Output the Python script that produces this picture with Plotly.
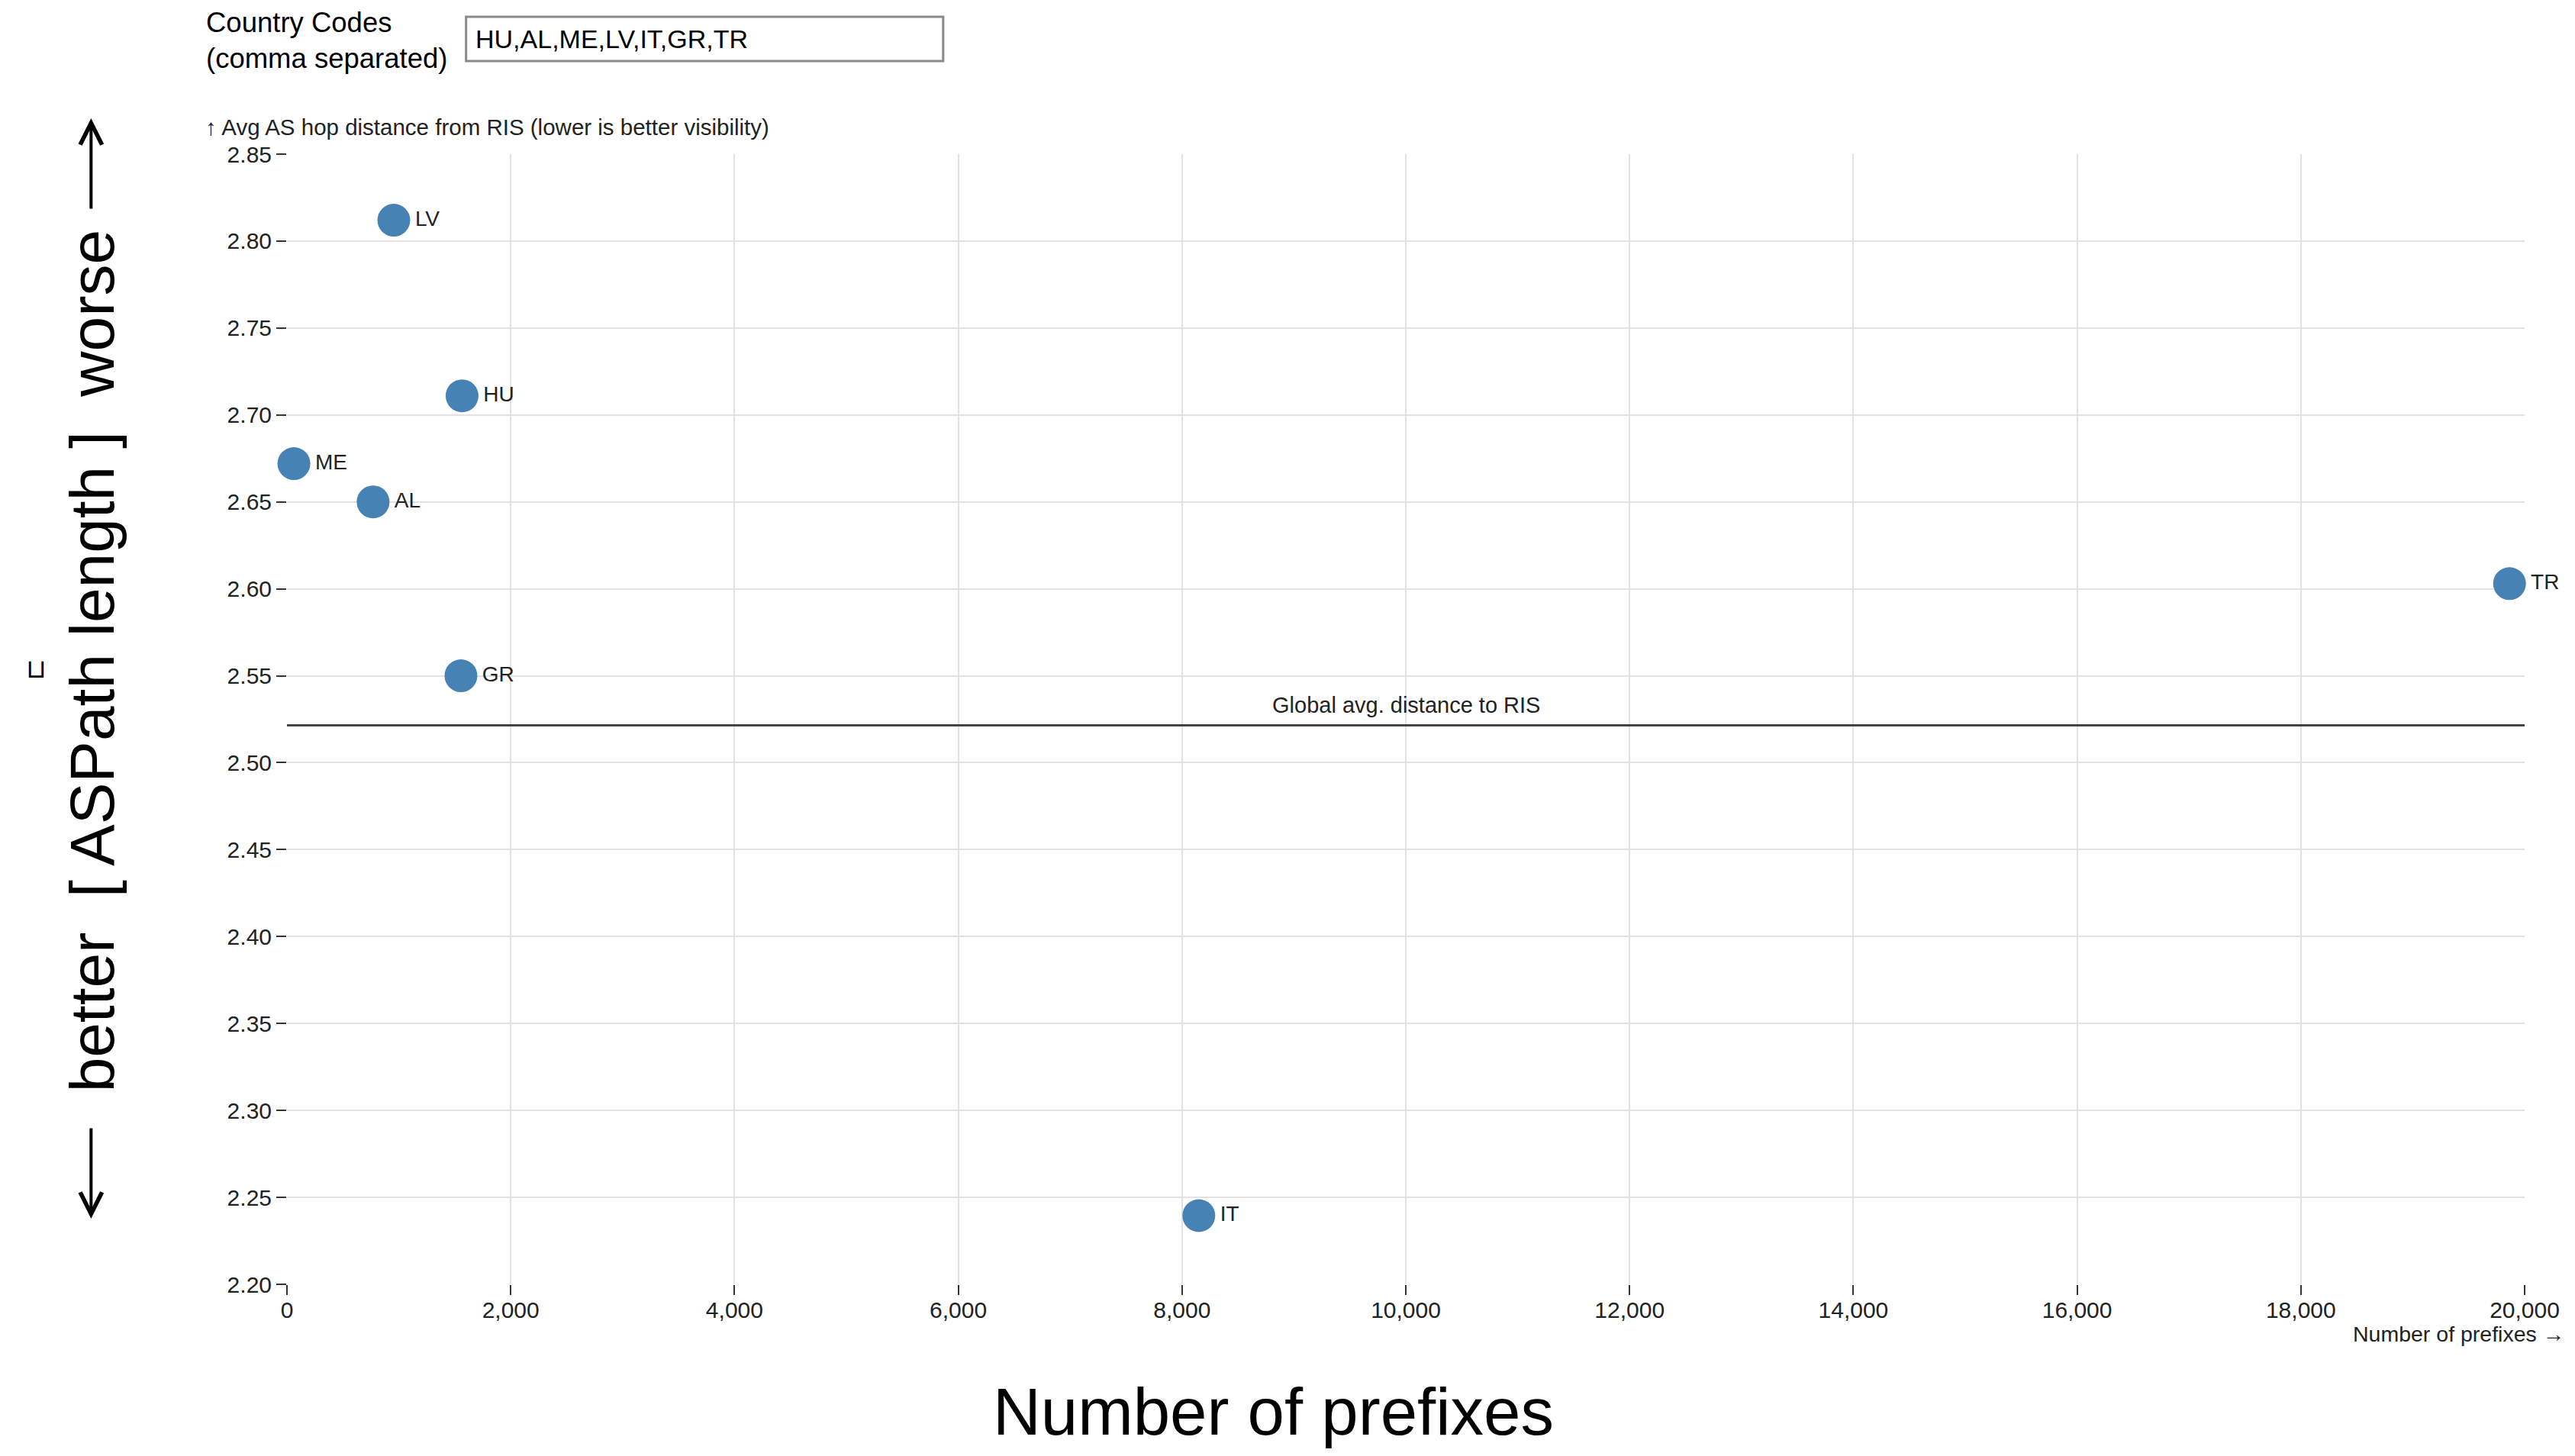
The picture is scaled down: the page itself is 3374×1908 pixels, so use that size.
import plotly.graph_objects as go

# ---- data ----
countries = ["HU", "AL", "ME", "LV", "IT", "GR", "TR"]
prefixes = [1565, 770, 62, 955, 8150, 1555, 19865]
avg_hops = [2.711, 2.650, 2.672, 2.812, 2.2395, 2.550, 2.603]
global_avg = 2.5215
x_ticks = [0, 2000, 4000, 6000, 8000, 10000, 12000, 14000, 16000, 18000, 20000]
y_ticks = [2.20, 2.25, 2.30, 2.35, 2.40, 2.45, 2.50, 2.55, 2.60, 2.65, 2.70, 2.75, 2.80, 2.85]
input_text = "HU,AL,ME,LV,IT,GR,TR"

# page body has an 8px margin; compensate so the figure lands on the reference pixels
OFF = 8
W, H = 3374 - 2 * OFF, 1908 - 2 * OFF
PLOT_L, PLOT_R, PLOT_T, PLOT_B = 376, 3312, 202, 1683   # screen pixels of the plot area
L = PLOT_L - OFF
T = PLOT_T - OFF
PW = PLOT_R - PLOT_L
PH = PLOT_B - PLOT_T
R = W - L - PW
B = H - T - PH


def px(xp):
    return (xp - PLOT_L) / PW


def py(yp):
    return (PLOT_B - yp) / PH


FONT = "Liberation Sans, Arial, sans-serif"
TXT = "#222222"

fig = go.Figure()

fig.add_trace(go.Scatter(
    x=[x_ticks[0], x_ticks[-1]], y=[global_avg, global_avg],
    mode="lines", line=dict(color="#444444", width=3),
    hoverinfo="skip", showlegend=False,
))

fig.add_trace(go.Scatter(
    x=prefixes, y=avg_hops, text=countries,
    mode="markers+text", textposition="middle right",
    textfont=dict(family=FONT, size=28, color=TXT),
    marker=dict(size=43, color="#4682b4", line=dict(width=0)),
    cliponaxis=False,
    showlegend=False,
))

annotations = [
    dict(x=(x_ticks[0] + x_ticks[-1]) / 2, y=global_avg, xref="x", yref="y",
         text="Global avg. distance to RIS", showarrow=False, yshift=26,
         font=dict(family=FONT, size=29, color=TXT)),
    dict(x=px(267), y=py(166), xref="paper", yref="paper", xanchor="left", yanchor="middle",
         text="↑ Avg AS hop distance from RIS (lower is better visibility)", showarrow=False,
         font=dict(family=FONT, size=29.5, color=TXT)),
    dict(x=px(3366), y=py(1748), xref="paper", yref="paper", xanchor="right", yanchor="middle",
         text="Number of prefixes →", showarrow=False,
         font=dict(family=FONT, size=28.5, color=TXT)),
    dict(x=px(1670), y=py(1849), xref="paper", yref="paper", xanchor="center", yanchor="middle",
         text="Number of prefixes", showarrow=False,
         font=dict(family=FONT, size=87, color="#000000")),
    dict(x=px(120), y=py(866), xref="paper", yref="paper", xanchor="center", yanchor="middle",
         text="better  [ ASPath length ]  worse", showarrow=False, textangle=-90,
         font=dict(family=FONT, size=82, color="#000000")),
    dict(x=px(47), y=py(876), xref="paper", yref="paper", xanchor="center", yanchor="middle",
         text="⊔", showarrow=False,
         font=dict(family="DejaVu Sans", size=34, color="#000000")),
    # arrows
    dict(x=px(119), y=py(155), xref="paper", yref="paper", ax=0, ay=120, axref="pixel", ayref="pixel",
         text="", showarrow=True, arrowhead=5, arrowsize=1.4, arrowwidth=4, arrowcolor="#000000"),
    dict(x=px(119), y=py(1597), xref="paper", yref="paper", ax=0, ay=-120, axref="pixel", ayref="pixel",
         text="", showarrow=True, arrowhead=5, arrowsize=1.4, arrowwidth=4, arrowcolor="#000000"),
    # input form label and value
    dict(x=px(268), y=py(53), xref="paper", yref="paper", xanchor="left", yanchor="middle",
         text="Country Codes<br>(comma separated)", showarrow=False, align="left",
         font=dict(family=FONT, size=36.5, color="#000000")),
    dict(x=px(621), y=py(51), xref="paper", yref="paper", xanchor="left", yanchor="middle",
         text=input_text, showarrow=False,
         font=dict(family=FONT, size=34, color="#000000")),
]

shapes = [
    dict(type="rect", xref="paper", yref="paper", x0=px(611), x1=px(1237), y0=py(80), y1=py(22),
         line=dict(color="#8a8a8a", width=3), fillcolor="white", layer="below"),
]

fig.update_layout(
    width=W, height=H,
    margin=dict(l=L, r=R, t=T, b=B),
    plot_bgcolor="white", paper_bgcolor="white",
    font=dict(family=FONT, size=28, color=TXT),
    annotations=annotations, shapes=shapes,
    showlegend=False,
)

fig.update_xaxes(
    range=[x_ticks[0], x_ticks[-1]], tickvals=x_ticks,
    ticktext=[f"{v:,}" for v in x_ticks],
    showgrid=True, gridcolor="#e2e2e2", gridwidth=2,
    zeroline=False, showline=False,
    ticks="outside", ticklen=13, tickwidth=2, tickcolor="#333333",
    ticklabelstandoff=-6,
    tickfont=dict(family=FONT, size=30, color=TXT),
)
fig.update_yaxes(
    range=[y_ticks[0], y_ticks[-1]], tickvals=y_ticks,
    ticktext=[f"{v:.2f}" for v in y_ticks],
    showgrid=True, gridcolor="#e2e2e2", gridwidth=2,
    zeroline=False, showline=False,
    ticks="outside", ticklen=13, tickwidth=2, tickcolor="#333333",
    tickfont=dict(family=FONT, size=30, color=TXT),
)

fig.write_html("out.html")
